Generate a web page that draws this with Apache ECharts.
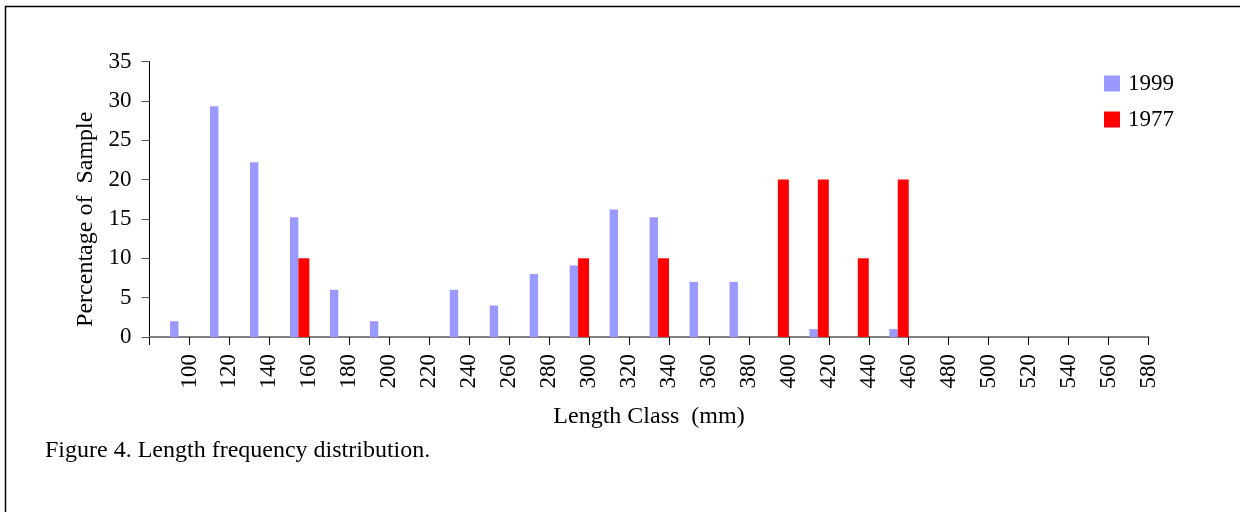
<!DOCTYPE html>
<html>
<head>
<meta charset="utf-8">
<script src="https://cdn.jsdelivr.net/npm/echarts@6/dist/echarts.min.js"></script>
<style>
  html, body { margin: 0; padding: 0; background: #fff; }
  #chart { width: 1240px; height: 512px; }
</style>
</head>
<body>
<div id="chart"></div>
<script>
// length classes (mm)
const lengthClasses = [100, 120, 140, 160, 180, 200, 220, 240, 260, 280, 300, 320, 340,
  360, 380, 400, 420, 440, 460, 480, 500, 520, 540, 560, 580];
// percentage of sample per class
const pct1999 = [2, 29.3, 22.2, 15.2, 6, 2, 0, 6, 4, 8, 9.1, 16.2, 15.2,
  7, 7, 0, 1, 0, 1, 0, 0, 0, 0, 0, 0];
const pct1977 = [0, 0, 0, 10, 0, 0, 0, 0, 0, 0, 10, 0, 10,
  0, 0, 20, 20, 10, 20, 0, 0, 0, 0, 0, 0];
const yTicks = { min: 0, max: 35, step: 5 };

const font = "'Liberation Serif', 'Times New Roman', serif";
const chart = echarts.init(document.getElementById("chart"), null, { renderer: "canvas" });

// labels sit on the tick marks between classes, so they get their own axis
const tickLabels = [""].concat(lengthClasses.map(String));

chart.setOption({
  backgroundColor: "#fff",
  animation: false,
  title: {
    text: "Figure 4. Length frequency distribution.",
    left: 45,
    top: 439,
    padding: 0,
    textStyle: { fontFamily: font, fontSize: 24, fontWeight: "normal", color: "#000" },
  },
  legend: {
    data: ["1999", "1977"],
    orient: "vertical",
    left: 1104,
    top: 72,
    padding: 0,
    icon: "rect",
    itemWidth: 16,
    itemHeight: 16,
    itemGap: 13,
    textStyle: { fontFamily: font, fontSize: 23, color: "#000", padding: [0, 0, 0, 3] },
  },
  grid: { left: 149.5, right: 91.5, top: 61.5, bottom: 175 },
  xAxis: [
    {
      type: "category",
      data: lengthClasses.map(String),
      boundaryGap: true,
      axisLine: { lineStyle: { color: "#808080", width: 2 } },
      axisTick: { show: true, interval: 0, length: 8, lineStyle: { color: "#000" } },
      axisLabel: { show: false },
      name: "Length Class  (mm)",
      nameLocation: "middle",
      nameGap: 68,
      nameTextStyle: { fontFamily: font, fontSize: 24, color: "#000" },
    },
    {
      type: "category",
      data: tickLabels,
      boundaryGap: false,
      position: "bottom",
      axisLine: { show: false },
      axisTick: { show: false },
      axisLabel: {
        interval: 0,
        rotate: 90,
        margin: 17,
        fontFamily: font,
        fontSize: 23,
        color: "#000",
      },
    },
  ],
  yAxis: {
    type: "value",
    min: yTicks.min,
    max: yTicks.max,
    interval: yTicks.step,
    splitLine: { show: false },
    axisLine: { show: true, lineStyle: { color: "#000", width: 1 } },
    axisTick: { show: true, length: 8, lineStyle: { color: "#555" } },
    axisLabel: { margin: 18, fontFamily: font, fontSize: 23, color: "#000" },
    name: "Percentage of  Sample",
    nameLocation: "middle",
    nameGap: 52,
    nameTextStyle: { fontFamily: font, fontSize: 24, color: "#000", padding: [0, 40, 0, 0] },
  },
  graphic: [
    {
      type: "rect",
      shape: { x: 5.5, y: 6.5, width: 1400, height: 700 },
      style: { fill: "none", stroke: "#000", lineWidth: 1.5 },
      silent: true,
    },
  ],
  series: [
    // empty spacer so the two real bars sit in the right half of each class
    { name: "spacer", type: "bar", data: [], barWidth: "51.5%", barGap: "0%" },
    {
      name: "1999",
      type: "bar",
      data: pct1999,
      barWidth: "21%",
      barGap: "0%",
      itemStyle: { color: "#9999FF" },
    },
    {
      name: "1977",
      type: "bar",
      data: pct1977,
      barWidth: "27.5%",
      barGap: "0%",
      itemStyle: { color: "#FF0000" },
    },
  ],
});
</script>
</body>
</html>
